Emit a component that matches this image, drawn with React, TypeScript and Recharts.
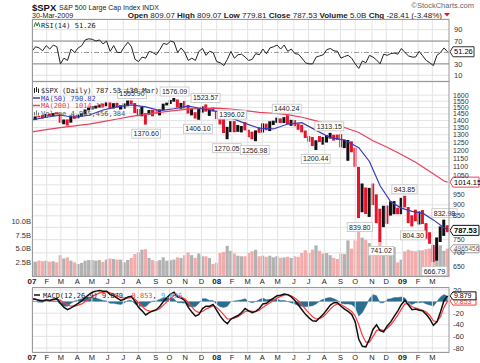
import React from 'react';
import {
  Area,
  Bar,
  CartesianGrid,
  Cell,
  ComposedChart,
  Line,
  ReferenceLine,
  Scatter,
  XAxis,
  YAxis,
} from 'recharts';

// x axis unit: weeks since Wed 3-Jan-2007 (week i centred on its Wednesday)
const monthPos = [
  0, 4.14, 8.14, 12.71, 16.86, 21.29, 25.71, 30, 34.86, 38.71, 43.14, 47.71,
  52, 56.29, 60.71, 64.86, 69.14, 73.71, 77.86, 82.29, 86.86, 91, 95.71, 99.71,
  104.29, 108.71, 112.71,
];
const monthLabels = [
  '07', 'F', 'M', 'A', 'M', 'J', 'J', 'A', 'S', 'O', 'N', 'D',
  '08', 'F', 'M', 'A', 'M', 'J', 'J', 'A', 'S', 'O', 'N', 'D',
  '09', 'F', 'M',
];

// weekly S&P 500 high / low / close, Jan 2007 - 30 Mar 2009
const high = [
  1429, 1431, 1435, 1441, 1449, 1452, 1456, 1462, 1452, 1409, 1409, 1438, 1438, 1445, 1454, 1484, 1499, 1511, 1514, 1523,
  1530, 1540, 1540, 1534, 1537, 1517, 1532, 1556, 1556, 1535, 1488, 1504, 1456, 1480, 1481, 1481, 1485, 1530, 1538, 1560,
  1576, 1564, 1536, 1552, 1520, 1492, 1463, 1488, 1508, 1524, 1485, 1499,
  1472, 1420, 1420, 1355, 1396, 1396, 1368, 1361, 1389, 1335, 1321, 1330, 1352, 1380, 1378, 1395, 1399, 1422, 1416, 1426,
  1440, 1406, 1404, 1379, 1370, 1329, 1291, 1285, 1263, 1291, 1285, 1297, 1313, 1300, 1301, 1304, 1267, 1265, 1256, 1214,
  1098, 1007, 986, 984, 1007, 951, 882, 896, 897, 917, 918, 887,
  934, 944, 890, 852, 878, 870, 876, 818, 780, 730, 759, 804, 833, 809,
];
const low = [
  1403, 1404, 1424, 1416, 1420, 1433, 1434, 1448, 1384, 1374, 1364, 1385, 1413, 1417, 1431, 1446, 1477, 1483, 1491, 1499,
  1505, 1510, 1490, 1492, 1500, 1484, 1490, 1509, 1527, 1457, 1433, 1432, 1371, 1445, 1432, 1453, 1439, 1477, 1516, 1527,
  1546, 1500, 1490, 1492, 1453, 1439, 1415, 1406, 1460, 1467, 1435, 1468,
  1411, 1372, 1312, 1270, 1318, 1317, 1320, 1316, 1330, 1283, 1270, 1257, 1313, 1315, 1331, 1325, 1368, 1384, 1383, 1382,
  1375, 1362, 1359, 1334, 1316, 1278, 1253, 1225, 1200, 1251, 1234, 1248, 1274, 1261, 1265, 1217, 1212, 1134, 1186, 1099,
  840, 866, 858, 845, 899, 818, 741, 801, 815, 851, 857, 857,
  857, 888, 818, 804, 826, 812, 814, 754, 734, 667, 672, 741, 765, 780,
];
const close = [
  1410, 1431, 1430, 1422, 1448, 1438, 1456, 1451, 1387, 1403, 1387, 1436, 1421, 1444, 1453, 1484, 1494, 1506, 1506, 1523,
  1516, 1536, 1508, 1533, 1503, 1503, 1530, 1553, 1534, 1459, 1433, 1454, 1446, 1479, 1474, 1454, 1484, 1526, 1527, 1558,
  1562, 1501, 1535, 1510, 1454, 1459, 1441, 1481, 1505, 1468, 1484, 1478,
  1412, 1401, 1325, 1331, 1395, 1331, 1350, 1353, 1331, 1293, 1288, 1330, 1315, 1370, 1333, 1390, 1398, 1414, 1388, 1425,
  1376, 1400, 1361, 1360, 1318, 1278, 1263, 1240, 1261, 1258, 1260, 1296, 1298, 1292, 1283, 1242, 1252, 1255, 1213, 1099,
  899, 941, 877, 969, 931, 873, 800, 896, 876, 880, 888, 873,
  932, 890, 850, 832, 826, 869, 827, 770, 735, 683, 757, 769, 816, 788,
];
// billions of shares
const volume = [
  2.7, 2.6, 2.8, 2.7, 2.8, 2.6, 2.7, 2.5, 3.8, 3.2, 3.4, 2.8, 2.5, 2.2, 2.4, 2.8, 2.9, 2.9, 2.8, 2.9,
  2.6, 3.0, 3.2, 3.1, 3.0, 3.0, 2.5, 2.9, 3.3, 4.0, 4.3, 4.8, 4.9, 3.3, 2.9, 2.7, 2.9, 3.4, 2.8, 2.9,
  3.0, 3.4, 3.3, 3.8, 4.3, 3.8, 3.3, 4.1, 3.6, 3.6, 3.3, 2.2,
  2.4, 4.2, 4.4, 5.5, 4.6, 4.1, 3.7, 3.6, 3.6, 4.2, 4.5, 4.8, 3.6, 3.7, 3.5, 3.7, 3.4, 3.6, 3.3, 3.4,
  3.5, 3.3, 3.6, 3.5, 4.2, 4.7, 4.2, 4.8, 5.6, 4.6, 4.1, 4.2, 3.8, 3.3, 3.1, 4.1, 4.0, 6.5, 5.0, 6.5,
  8.5, 7.0, 6.6, 6.0, 5.4, 5.5, 6.5, 4.5, 5.2, 5.0, 5.3, 2.5,
  3.0, 4.5, 4.8, 4.6, 4.5, 4.7, 4.7, 4.9, 5.0, 5.4, 5.3, 5.6, 4.6, 5.0,
];
const rsi = [
  52, 60, 58, 53, 62, 56, 63, 60, 30, 40, 36, 56, 50, 58, 62, 72, 74, 73, 70, 72,
  65, 70, 52, 62, 50, 50, 60, 68, 60, 38, 34, 42, 40, 52, 50, 46, 55, 66, 64, 70,
  68, 50, 58, 50, 36, 40, 36, 52, 57, 45, 52, 50,
  34, 32, 27, 38, 52, 40, 46, 47, 42, 36, 38, 48, 46, 56, 48, 58, 60, 63, 56, 63,
  52, 56, 48, 47, 40, 32, 30, 30, 42, 44, 46, 55, 57, 53, 52, 40, 43, 45, 40, 30,
  22, 35, 32, 45, 42, 37, 30, 47, 45, 48, 49, 47,
  57, 50, 44, 42, 42, 52, 44, 36, 32, 27, 45, 50, 58, 51.26,
];
const macd = [
  5, 4, 2, 1, 3, 2, 4, 5, -3, -10, -14, -11, -7, -3, 1, 7, 12, 16, 18, 19,
  18, 18, 12, 10, 6, 2, 4, 8, 9, 0, -10, -16, -23, -19, -16, -14, -8, 0, 7, 13,
  16, 8, 6, 2, -10, -18, -25, -22, -12, -8, -8, -5,
  -15, -25, -33, -38, -30, -27, -24, -19, -12, -16, -19, -17, -12, -4, -3, 2, 6, 10, 11, 13,
  12, 8, 2, -6, -14, -22, -28, -33, -34, -28, -22, -14, -6, -2, -2, -8, -13, -17, -22, -35,
  -65, -77, -78, -65, -48, -40, -50, -52, -42, -35, -25, -16,
  -5, 2, -6, -14, -13, -15, -16, -22, -30, -41, -35, -18, 2, 9.879,
];
const signal = [
  4, 4, 3, 2, 2, 2, 3, 4, 2, -2, -6, -8, -8, -6, -4, 0, 4, 9, 12, 15,
  16, 17, 15, 13, 10, 7, 6, 6, 7, 4, -2, -8, -14, -16, -17, -15, -12, -6, 0, 6,
  11, 10, 8, 5, -2, -9, -16, -19, -17, -13, -10, -7,
  -10, -16, -23, -30, -30, -28, -26, -22, -17, -16, -17, -17, -15, -10, -6, -2, 2, 6, 9, 11,
  12, 10, 6, 1, -6, -13, -20, -26, -30, -29, -26, -20, -13, -7, -4, -5, -9, -13, -17, -25,
  -40, -58, -70, -70, -60, -50, -48, -50, -46, -40, -32, -23,
  -13, -4, -4, -9, -11, -13, -15, -18, -24, -33, -35, -26, -10, 0.853,
];
const hist = [
  1, 0, -1, -1, 1, 0, 1, 1, -5, -8, -8, -3, 1, 3, 5, 7, 8, 7, 6, 4,
  2, 1, -3, -3, -4, -5, -2, 2, 2, -4, -8, -8, -9, -3, 1, 1, 4, 6, 7, 7,
  5, -2, -2, -3, -8, -9, -9, -3, 5, 5, 2, 2,
  -5, -9, -10, -8, 0, 1, 2, 3, 5, 0, -2, 0, 3, 6, 3, 4, 4, 4, 2, 2,
  0, -2, -4, -7, -8, -9, -8, -7, -4, 1, 4, 6, 7, 5, 2, -3, -4, -4, -5, -10,
  -25, -19, -8, 5, 12, 10, -2, -2, 4, 5, 7, 7,
  8, 6, -2, -5, -2, -2, -1, -4, -6, -8, 0, 8, 12, 9.026,
];

const ma50Week = [0, 4, 8, 12, 16, 20, 24, 28, 32, 36, 40, 44, 48, 52, 56, 60, 64, 68, 72, 76, 80, 84, 88, 92, 95, 98, 101, 104, 107, 110, 113, 116, 117];
const ma50 = [1405, 1425, 1440, 1425, 1440, 1480, 1505, 1520, 1505, 1475, 1490, 1510, 1490, 1470, 1420, 1380, 1345, 1340, 1375, 1385, 1330, 1280, 1265, 1215, 1130, 995, 915, 885, 870, 862, 832, 798, 790.82];
const ma200Week = [0, 4, 8, 12, 16, 20, 24, 28, 32, 36, 40, 44, 48, 52, 56, 60, 64, 68, 72, 76, 80, 84, 88, 92, 96, 100, 104, 108, 112, 116, 117];
const ma200 = [1320, 1335, 1350, 1362, 1375, 1393, 1412, 1432, 1447, 1462, 1475, 1487, 1492, 1494, 1488, 1475, 1462, 1455, 1445, 1425, 1398, 1370, 1350, 1315, 1260, 1218, 1172, 1125, 1072, 1020, 1014.15];

const annoWeek = [28.14, 40.14, 32.14, 48.86, 46.71, 56.29, 54.86, 62.71, 71.71, 79.86, 83.71, 92.29, 104.86, 98.29, 107.29, 116.14, 113.29];
const annoPrice = [1555.9, 1576.09, 1370.6, 1523.57, 1406.1, 1396.02, 1270.05, 1256.98, 1440.24, 1200.44, 1313.15, 839.8, 943.85, 741.02, 804.3, 832.98, 666.79];
const annoAbove = [true, true, false, true, false, true, false, false, true, false, true, false, true, false, false, true, false];

const priceTicks = [650, 700, 750, 800, 850, 900, 950, 1000, 1050, 1100, 1150, 1200, 1250, 1300, 1350, 1400, 1450, 1500, 1550, 1600];

const weekly = high.map((h, i) => ({
  x: i,
  range: [low[i], h],
  up: i === 0 ? true : close[i] >= close[i - 1],
  vol: volume[i],
  rsi: rsi[i],
  macd: macd[i],
  signal: signal[i],
  hist: hist[i],
}));
const ma50Data = ma50Week.map((x, i) => ({ x, v: ma50[i] }));
const ma200Data = ma200Week.map((x, i) => ({ x, v: ma200[i] }));
const annoData = annoWeek.map((x, i) => ({ x, y: annoPrice[i], t: annoPrice[i].toFixed(2), above: annoAbove[i] }));

const SANS = '"Liberation Sans", Arial, sans-serif';
const MONO = '"DejaVu Sans Mono", monospace';
const GRID = '#e3e3e3';
const X_DOMAIN = [0, 117.4];
const axisTick = { fontSize: 7.5, fill: '#333', fontFamily: SANS };
const priceTick = { fontSize: 7, fill: '#333', fontFamily: SANS };

function MonthTick(props: any) {
  const { x, y, payload } = props;
  const label = monthLabels[monthPos.indexOf(payload.value)] ?? '';
  const isYear = /\d/.test(label);
  return (
    <text x={x} y={y + 7.5} textAnchor="middle" fontSize={isYear ? 8 : 7.5} fontWeight={isYear ? 'bold' : 'normal'} fill="#222" fontFamily={SANS}>
      {label}
    </text>
  );
}

function ValueBox(props: any) {
  const { viewBox, text, border, color = '#000', bold = false, w = 29, fs = 7.5, h = 10 } = props;
  if (!viewBox) return null;
  const x = viewBox.x + viewBox.width + 1;
  const y = viewBox.y;
  return (
    <g>
      <path d={`M${x} ${y} L${x + 3} ${y - h / 2} H${x + w} V${y + h / 2} H${x + 3} Z`} fill="#fff" stroke={border} strokeWidth={1} />
      <text x={x + 4} y={y + fs * 0.36} fontSize={fs} fontWeight={bold ? 'bold' : 'normal'} fill={color} fontFamily={SANS}>
        {text}
      </text>
    </g>
  );
}

function Anno(props: any) {
  const { cx, cy, payload } = props;
  if (cx == null || cy == null) return null;
  const w = payload.t.length * 3.7 + 3;
  const mid = payload.above ? cy - 6.5 : cy + 9;
  return (
    <g>
      <rect x={cx - w / 2} y={mid - 4.5} width={w} height={9} fill="#fff" stroke="#c4c4c4" strokeWidth={0.8} />
      <text x={cx} y={mid + 2.5} textAnchor="middle" fontSize={7} fill="#222" fontFamily={SANS}>
        {payload.t}
      </text>
    </g>
  );
}

function monthLines(yAxisId?: string) {
  return monthPos.map((p) => (
    <ReferenceLine key={`m${p}`} x={p} yAxisId={yAxisId} stroke={GRID} strokeWidth={1} />
  ));
}

export default function App() {
  return (
    <div style={{ position: 'absolute', left: 0, top: 0, width: 480, height: 363, background: '#fff', overflow: 'hidden' }}>
      {/* RSI panel */}
      <div style={{ position: 'absolute', left: 0, top: 14 }}>
        <ComposedChart width={480} height={67} data={weekly} margin={{ top: 5, right: 0, bottom: 0, left: 32 }}>
          <XAxis dataKey="x" type="number" domain={X_DOMAIN} hide allowDataOverflow />
          <YAxis orientation="right" width={31} domain={[0, 108.7]} ticks={[10, 30, 70, 90]} interval={0} allowDataOverflow
            axisLine={false} tickLine={false} tickSize={0} tickMargin={5} tick={axisTick} />
          <CartesianGrid vertical={false} stroke={GRID} />
          {monthLines()}
          <ReferenceLine y={70} stroke="#8a8a8a" />
          <ReferenceLine y={30} stroke="#8a8a8a" />
          <ReferenceLine y={50} stroke="#9a9a9a" strokeDasharray="5 2 1 2" />
          <Line dataKey="rsi" stroke="#222" strokeWidth={1} dot={false} isAnimationActive={false} />
          <ReferenceLine y={51.26} stroke="none" label={<ValueBox text="51.26" border="#333" w={24} />} />
        </ComposedChart>
      </div>

      {/* price + volume panel */}
      <div style={{ position: 'absolute', left: 0, top: 82 }}>
        <ComposedChart width={480} height={208} data={weekly} margin={{ top: 0, right: 0, bottom: 0, left: 0 }}>
          <XAxis dataKey="x" type="number" domain={X_DOMAIN} ticks={monthPos} interval={0} allowDataOverflow height={14}
            axisLine={false} tickLine={false} tickSize={0} tickMargin={0} tick={<MonthTick />} />
          <XAxis xAxisId="v" dataKey="x" type="number" domain={X_DOMAIN} hide allowDataOverflow />
          <XAxis xAxisId="o" dataKey="x" type="number" domain={X_DOMAIN} hide />
          <YAxis yAxisId="vol" orientation="left" width={32} domain={[0, 35.4]} ticks={[2.5, 5, 7.5, 10]} interval={0} allowDataOverflow
            axisLine={false} tickLine={false} tickSize={0} tickMargin={1} tick={axisTick}
            tickFormatter={(v) => `${Number(v).toFixed(1)}B`} />
          <YAxis yAxisId="price" orientation="right" width={31} scale="log" domain={[620, 1714]} ticks={priceTicks} interval={0}
            axisLine={false} tickLine={false} tickSize={0} tickMargin={4} tick={priceTick}
            tickFormatter={(v) => (v === 800 || v === 1000 ? '' : String(v))} />
          <CartesianGrid vertical={false} yAxisId="price" stroke={GRID} />
          {monthLines('price')}
          <Bar xAxisId="v" yAxisId="vol" dataKey="vol" barSize={3.2} isAnimationActive={false}>
            {weekly.map((d, i) => (
              <Cell key={i} fill={d.up ? '#a4a4a4' : '#f29c9c'} fillOpacity={0.85} />
            ))}
          </Bar>
          <Bar yAxisId="price" dataKey="range" barSize={3} isAnimationActive={false}>
            {weekly.map((d, i) => (
              <Cell key={i} fill={d.up ? '#111' : '#e4142e'} />
            ))}
          </Bar>
          <Line xAxisId="o" yAxisId="price" data={ma200Data} dataKey="v" stroke="#e8415c" strokeWidth={1.2} dot={false} isAnimationActive={false} />
          <Line xAxisId="o" yAxisId="price" data={ma50Data} dataKey="v" stroke="#3b3bb4" strokeWidth={1.2} dot={false} isAnimationActive={false} />
          <Scatter xAxisId="o" yAxisId="price" data={annoData} dataKey="y" shape={<Anno />} isAnimationActive={false} />
          <ReferenceLine yAxisId="price" y={1014.15} stroke="none" label={<ValueBox text="1014.15" border="#e8415c" />} />
          <ReferenceLine xAxisId="v" yAxisId="vol" y={4.965} stroke="none" label={<ValueBox text="4965456" border="#999" color="#666" w={29} fs={6.5} h={8} />} />
          <ReferenceLine yAxisId="price" y={787.53} stroke="none" label={<ValueBox text="787.53" border="#111" bold />} />
        </ComposedChart>
      </div>

      {/* MACD panel */}
      <div style={{ position: 'absolute', left: 0, top: 282 }}>
        <ComposedChart width={480} height={81} data={weekly} margin={{ top: 6, right: 0, bottom: 0, left: 32 }}>
          <XAxis dataKey="x" type="number" domain={X_DOMAIN} ticks={monthPos} interval={0} allowDataOverflow height={11}
            axisLine={false} tickLine={false} tickSize={0} tickMargin={0} tick={<MonthTick />} />
          <YAxis orientation="right" width={31} domain={[-86.9, 23.4]} ticks={[20, 0, -20, -40, -60, -80]} interval={0} allowDataOverflow
            axisLine={false} tickLine={false} tickSize={0} tickMargin={4} tick={axisTick}
            tickFormatter={(v) => (v === 0 ? '' : String(v))} />
          <CartesianGrid vertical={false} stroke={GRID} />
          {monthLines()}
          <Area dataKey="hist" type="linear" baseValue={0} fill="#2c6d92" fillOpacity={1} stroke="#2c6d92" strokeWidth={0.5} isAnimationActive={false} />
          <Line dataKey="signal" stroke="#ff3838" strokeWidth={1.2} dot={false} isAnimationActive={false} />
          <Line dataKey="macd" stroke="#111" strokeWidth={1.5} dot={false} isAnimationActive={false} />
          <ReferenceLine y={0.853} stroke="none" label={<ValueBox text="0.853" border="#ff3838" color="#ff3838" w={26} h={8} fs={7} />} />
          <ReferenceLine y={9.879} stroke="none" label={<ValueBox text="9.879" border="#111" w={26} h={8} fs={7} />} />
        </ComposedChart>
      </div>

      {/* header, panel frames and legends */}
      <svg width={480} height={363} style={{ position: 'absolute', left: 0, top: 0, pointerEvents: 'none' }}>
        <text x={32} y={10.5} fontSize={9.5} fontWeight="bold" fill="#111" fontFamily={SANS}>$SPX</text>
        <text x={59} y={10} fontSize={7} fill="#222" fontFamily={SANS}>S&amp;P 500 Large Cap Index  INDX</text>
        <text x={474} y={8} textAnchor="end" fontSize={7.5} fill="#666" fontFamily={SANS}>©StockCharts.com</text>
        <text x={32} y={17.5} fontSize={7.2} fill="#222" fontFamily={SANS}>30-Mar-2009</text>
        <text x={442} y={17.5} textAnchor="end" fontSize={8} fill="#222" fontFamily={SANS}>
          <tspan fontWeight="bold">Open</tspan> 809.07  <tspan fontWeight="bold">High</tspan> 809.07  <tspan fontWeight="bold">Low</tspan> 779.81  <tspan fontWeight="bold">Close</tspan> 787.53  <tspan fontWeight="bold">Volume</tspan> 5.0B  <tspan fontWeight="bold">Chg</tspan> -28.41 (-3.48%)
        </text>
        <path d="M444 13 H450 L447 16.5 Z" fill="#e4142e" />

        <rect x={32.5} y={19.5} width={416.5} height={62} fill="none" stroke="#999" />
        <rect x={32.5} y={81.5} width={416.5} height={195} fill="none" stroke="#999" />
        <rect x={32.5} y={287.5} width={416.5} height={65} fill="none" stroke="#999" />

        <path d="M34 27 L35.5 22.5 L37 26 L38.5 22.5 L40 27" fill="none" stroke="#3a7a3a" strokeWidth={1} />
        <text x={41} y={27.5} fontSize={7} fill="#222" fontFamily={MONO}>RSI(14) 51.26</text>

        <path d="M34.5 88 V93 M36.5 87 V92 M38.5 88.5 V93" stroke="#222" strokeWidth={1} />
        <text x={41} y={93} fontSize={7} fill="#222" fontFamily={MONO}>$SPX (Daily) 787.53 (30 Mar)</text>
        <line x1={33} y1={98} x2={40} y2={98} stroke="#3b3bb4" strokeWidth={1.5} />
        <text x={41} y={100.5} fontSize={7} fill="#3b3bb4" fontFamily={MONO}>MA(50) 790.82</text>
        <line x1={33} y1={105.5} x2={40} y2={105.5} stroke="#e8415c" strokeWidth={1.5} />
        <text x={41} y={108} fontSize={7} fill="#e8415c" fontFamily={MONO}>MA(200) 1014.15</text>
        <path d="M34.5 115.5 V112 M36.5 115.5 V110.5 M38.5 115.5 V112.5" stroke="#777" strokeWidth={1} />
        <text x={41} y={115.5} fontSize={7} fill="#555" fontFamily={MONO}>Volume 4,965,456,384</text>

        <line x1={34} y1={295} x2={40} y2={295} stroke="#111" strokeWidth={1.5} />
        <text x={43} y={297.5} fontSize={7} fill="#222" fontFamily={MONO}>
          MACD(12,26,9) 9.879, <tspan fill="#ff3838">0.853</tspan>, <tspan fill="#3aa7dc">9.026</tspan>
        </text>
      </svg>
    </div>
  );
}
